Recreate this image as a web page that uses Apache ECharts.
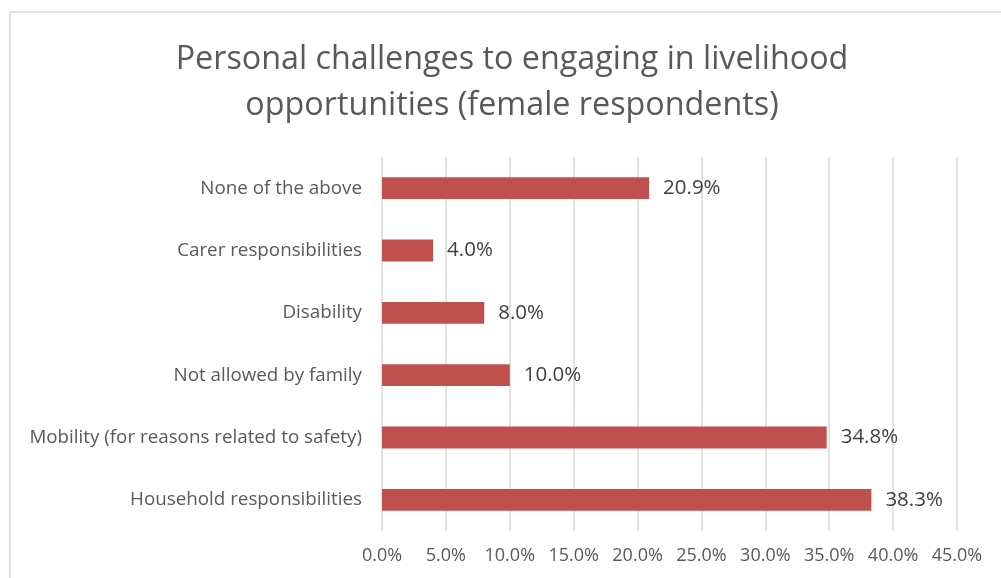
<!DOCTYPE html>
<html><head><meta charset="utf-8">
<script src="https://cdn.jsdelivr.net/npm/echarts@6/dist/echarts.min.js"></script>
<style>html,body{margin:0;padding:0;background:#fff}#c{width:1001px;height:578px}</style>
</head><body><div id="c"></div>
<script>
const titleText = "Personal challenges to engaging in livelihood\nopportunities (female respondents)";
const categories = ["Household responsibilities","Mobility (for reasons related to safety)","Not allowed by family","Disability","Carer responsibilities","None of the above"];
const values = [38.3, 34.8, 10.0, 8.0, 4.0, 20.9];
const xTicks = {min:0, max:45, interval:5};
const FONT = "'Open Sans', sans-serif";
const chart = echarts.init(document.getElementById('c'));
chart.setOption({
  animation:false,
  backgroundColor:'#fff',
  graphic:[{type:'rect',shape:{x:10,y:12,width:1010,height:600},style:{fill:'none',stroke:'#D9D9D9',lineWidth:1.5},silent:true}],
  title:{text:titleText,left:507,top:32,textAlign:'center',textStyle:{fontFamily:FONT,fontSize:32.3,fontWeight:'normal',color:'#595959',lineHeight:46}},
  grid:{left:382,right:44,top:157,bottom:47,containLabel:false},
  xAxis:{type:'value',min:xTicks.min,max:xTicks.max,interval:xTicks.interval,
    axisLine:{show:false},axisTick:{show:false},
    splitLine:{lineStyle:{color:'#D9D9D9',width:1.5}},
    axisLabel:{formatter:v=>v.toFixed(1)+'%',fontFamily:FONT,fontSize:18,color:'#595959',margin:16}},
  yAxis:{type:'category',data:categories,axisLine:{show:false},axisTick:{show:false},
    axisLabel:{fontFamily:FONT,fontSize:18.8,color:'#595959',margin:20}},
  series:[{type:'bar',data:values,barWidth:'35%',itemStyle:{color:'#C0504D'},
    label:{show:true,position:'right',distance:14,formatter:p=>p.value.toFixed(1)+'%',fontFamily:FONT,fontSize:20.5,color:'#404040'}}]
});
</script></body></html>
